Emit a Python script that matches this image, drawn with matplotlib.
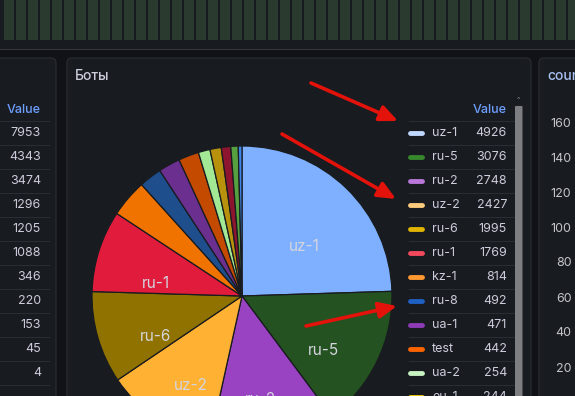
import numpy as np
import matplotlib.pyplot as plt
from matplotlib.patches import FancyBboxPatch, Rectangle

plt.rcParams['font.family'] = ['Inter', 'DejaVu Sans']

W, H = 575, 396

# панель "Боты"
bot_names = ['uz-1', 'ru-5', 'ru-2', 'uz-2', 'ru-6', 'ru-1', 'kz-1', 'ru-8',
             'ua-1', 'test', 'ua-2', 'eu-1', 'ru-3', 'ru-4', 'ru-7']
bot_values = [4926, 3076, 2748, 2427, 1995, 1769, 814, 492,
              471, 442, 254, 244, 205, 160, 80]
pie_colors = ['#7eb0ff', '#245220', '#9a43c2', '#ffb133', '#8f7200', '#e01b3c',
              '#f07300', '#1f4e8c', '#6b2f90', '#c44a00', '#a3e895', '#b8920c',
              '#8e1530', '#56a040', '#3d85e8']
legend_colors = ['#c0d8ff', '#37872d', '#b877d9', '#ffcb7d', '#e0b400', '#f2495c',
                 '#ff9830', '#1f60c4', '#8f3bb8', '#fa6400', '#c8f2c2', '#f2cc0c',
                 '#c4162a', '#56a64b', '#5794f2']

# левая панель (видна только колонка Value)
left_values = [7953, 4343, 3474, 1296, 1205, 1088, 346, 220, 153, 45, 4]

# правая панель - подписи оси
right_ticks = [160, 140, 120, 100, 80, 60, 40, 20]

# полоса столбиков сверху
top_bars = [1] * 48

text_col = '#ccccdc'
blue_col = '#6e9fff'
panel_col = '#181b1f'
border_col = '#2a2d33'


def px_axes(x0, y0, x1, y1):
    # оси по пиксельным координатам (отсчёт сверху)
    return fig.add_axes([x0 / W, 1 - y1 / H, (x1 - x0) / W, (y1 - y0) / H])


fig = plt.figure(figsize=(W / 100, H / 100), dpi=100)
fig.patch.set_facecolor('#111217')

bg = fig.add_axes([0, 0, 1, 1])
bg.set_xlim(0, W)
bg.set_ylim(H, 0)
bg.axis('off')

# верхняя полоса
bg.add_patch(Rectangle((0, 0), W, 48, color=panel_col, zorder=0))
bg.plot([0, W], [48.5, 48.5], color='#33363c', lw=0.8)

# панели
for x0, x1 in [(-20, 56), (67, 531), (539, 600)]:
    bg.add_patch(FancyBboxPatch((x0, 58), x1 - x0, 400,
                                boxstyle='round,pad=0,rounding_size=5',
                                fc=panel_col, ec=border_col, lw=0.8, zorder=1))

ax_top = px_axes(0, 0, W, 40)
ax_top.bar(np.arange(len(top_bars)), top_bars, width=10 / 12, color='#2b3a2f')
ax_top.set_xlim(-0.75, (W - 9) / 12)
ax_top.set_ylim(0, 1)
ax_top.axis('off')

# левая панель
bg.text(41, 110, 'Value', color=blue_col, fontsize=9, fontweight='medium',
        ha='right', va='center', zorder=3)
bg.plot([0, 49], [121, 121], color=border_col, lw=0.8, zorder=2)
for i, v in enumerate(left_values):
    y = 133 + 24 * i
    bg.text(41, y, str(v), color=text_col, fontsize=9, ha='right', va='center', zorder=3)
    bg.plot([0, 49], [y + 12, y + 12], color=border_col, lw=0.8, zorder=2)

# заголовок
bg.text(75, 76, 'Боты', color=text_col, fontsize=10, fontweight='medium',
        ha='left', va='center', zorder=3)

# круговая диаграмма
ax_pie = px_axes(92, 146, 392, 446)
pie_labels = [n if v > 1000 else '' for n, v in zip(bot_names, bot_values)]
wedges, texts = ax_pie.pie(bot_values, labels=pie_labels, colors=pie_colors,
                           startangle=90, counterclock=False, radius=1,
                           labeldistance=0.6,
                           wedgeprops=dict(edgecolor=panel_col, linewidth=0.9))
for t in texts:
    x, y = t.get_position()
    t.set_position((x, y - 0.1))
    t.set_ha('center')
    t.set_va('center')
    t.set_color('#d5d5de')
    t.set_fontsize(11)
ax_pie.set_xlim(-1, 1)
ax_pie.set_ylim(-1, 1)

# легенда-таблица
bg.text(507, 110, 'Value', color=blue_col, fontsize=9, fontweight='medium',
        ha='right', va='center', zorder=3)
bg.plot([409, 514], [121, 121], color=border_col, lw=0.8, zorder=2)
for i, (n, v) in enumerate(zip(bot_names, bot_values)):
    y = 133 + 24 * i
    if y > H + 12:
        break
    bg.plot([410, 422], [y, y], color=legend_colors[i], lw=3.5,
            solid_capstyle='round', zorder=3)
    bg.text(432, y, n, color=text_col, fontsize=9, ha='left', va='center', zorder=3)
    bg.text(507, y, str(v), color=text_col, fontsize=9, ha='right', va='center', zorder=3)
    bg.plot([409, 514], [y + 12, y + 12], color=border_col, lw=0.8, zorder=2)

# полоса прокрутки
bg.add_patch(FancyBboxPatch((515, 106), 7.5, 300, boxstyle='round,pad=0,rounding_size=1',
                            fc='#7d7e82', ec='none', zorder=3))
bg.text(518.5, 100, '^', color='#8a8b90', fontsize=5, ha='center', va='center', zorder=3)

# правая панель
bg.text(547, 76, 'count', color='#a9c2f5', fontsize=10, fontweight='medium',
        ha='left', va='center', zorder=3)
ax_r = px_axes(577, 60, 597, H)
ax_r.set_ylim(160 - (H - 122) / 1.75, 160 + (122 - 60) / 1.75)
ax_r.set_yticks(right_ticks)
ax_r.set_yticklabels([str(t) for t in right_ticks])
ax_r.tick_params(axis='y', length=0, pad=4, labelsize=9, labelcolor='#c4c5cd')
ax_r.set_xticks([])
for s in ax_r.spines.values():
    s.set_visible(False)
ax_r.patch.set_alpha(0)

# красные стрелки поверх скриншота
over = fig.add_axes([0, 0, 1, 1])
over.set_xlim(0, W)
over.set_ylim(H, 0)
over.axis('off')
for start, tip in [((311, 83), (398, 121)), ((282, 134), (396, 199)), ((306, 326), (397, 306))]:
    over.annotate('', xy=tip, xytext=start,
                  arrowprops=dict(arrowstyle='-|>,head_length=0.9,head_width=0.4',
                                  color='#e3120b', lw=2.6, shrinkA=0, shrinkB=0,
                                  mutation_scale=12))

fig.savefig('out.png', dpi=100, facecolor=fig.get_facecolor())
